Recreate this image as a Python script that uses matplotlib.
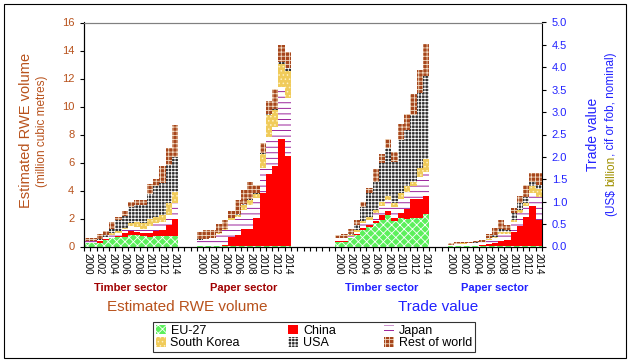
import matplotlib.pyplot as plt
import numpy as np
from matplotlib.patches import Patch, Rectangle

plt.rcParams['font.family'] = ['Liberation Sans', 'DejaVu Sans']
plt.rcParams['hatch.linewidth'] = 0.6

years = list(range(2000, 2015))
series_names = ["EU-27", "China", "Japan", "South Korea", "USA", "Rest of world"]

# Timber sector, estimated RWE volume (million m3)
timber_rwe_eu = [0.24, 0.24, 0.24, 0.43, 0.60, 0.67, 0.71, 0.79, 0.82, 0.77, 0.70, 0.77, 0.77, 0.77, 0.77]
timber_rwe_china = [0.00, 0.02, 0.14, 0.12, 0.04, 0.07, 0.24, 0.35, 0.24, 0.18, 0.30, 0.36, 0.41, 0.77, 1.19]
timber_rwe_japan = [0.12, 0.12, 0.10, 0.12, 0.19, 0.24, 0.31, 0.29, 0.30, 0.30, 0.48, 0.55, 0.59, 0.71, 1.12]
timber_rwe_korea = [0.02, 0.00, 0.02, 0.04, 0.12, 0.12, 0.07, 0.28, 0.40, 0.40, 0.50, 0.45, 0.48, 0.83, 0.79]
timber_rwe_usa = [0.02, 0.02, 0.05, 0.08, 0.31, 0.76, 0.88, 1.10, 1.20, 1.30, 1.75, 2.20, 2.26, 2.74, 2.55]
timber_rwe_row = [0.20, 0.20, 0.35, 0.35, 0.48, 0.28, 0.36, 0.40, 0.36, 0.38, 0.70, 0.46, 1.26, 1.19, 2.26]

# Paper sector, estimated RWE volume (million m3)
paper_rwe_eu = [0.03, 0.03, 0.03, 0.03, 0.03, 0.03, 0.03, 0.03, 0.03, 0.03, 0.03, 0.05, 0.05, 0.05, 0.05]
paper_rwe_china = [0.00, 0.00, 0.02, 0.03, 0.10, 0.67, 0.79, 1.20, 1.20, 2.03, 3.82, 5.10, 5.70, 7.65, 6.41]
paper_rwe_japan = [0.45, 0.48, 0.55, 0.85, 1.05, 1.20, 1.30, 1.38, 1.73, 1.38, 1.78, 2.70, 2.81, 3.67, 4.14]
paper_rwe_korea = [0.02, 0.02, 0.02, 0.03, 0.05, 0.12, 0.15, 0.35, 0.36, 0.29, 0.95, 1.54, 1.19, 1.67, 1.96]
paper_rwe_usa = [0.02, 0.02, 0.02, 0.03, 0.03, 0.05, 0.05, 0.05, 0.05, 0.07, 0.07, 0.11, 0.05, 0.16, 0.17]
paper_rwe_row = [0.52, 0.63, 0.55, 0.63, 0.63, 0.47, 1.00, 1.03, 1.26, 0.59, 0.72, 0.92, 1.43, 1.19, 1.19]

# Timber sector, trade value (US$ billion)
timber_val_eu = [0.11, 0.11, 0.18, 0.26, 0.37, 0.44, 0.52, 0.59, 0.70, 0.57, 0.63, 0.61, 0.63, 0.63, 0.73]
timber_val_china = [0.02, 0.02, 0.00, 0.01, 0.04, 0.04, 0.06, 0.11, 0.09, 0.06, 0.12, 0.23, 0.42, 0.42, 0.40]
timber_val_japan = [0.05, 0.05, 0.05, 0.06, 0.12, 0.11, 0.16, 0.21, 0.25, 0.26, 0.32, 0.38, 0.29, 0.51, 0.54]
timber_val_korea = [0.02, 0.02, 0.02, 0.03, 0.04, 0.06, 0.07, 0.09, 0.09, 0.09, 0.12, 0.12, 0.11, 0.19, 0.28]
timber_val_usa = [0.00, 0.00, 0.03, 0.12, 0.32, 0.54, 0.64, 0.86, 1.06, 0.91, 1.19, 1.26, 1.49, 1.67, 1.86]
timber_val_row = [0.06, 0.09, 0.10, 0.11, 0.11, 0.11, 0.27, 0.20, 0.22, 0.23, 0.35, 0.36, 0.46, 0.53, 0.71]

# Paper sector, trade value (US$ billion)
paper_val_eu = [0.01, 0.01, 0.01, 0.01, 0.01, 0.01, 0.01, 0.01, 0.01, 0.01, 0.01, 0.01, 0.01, 0.02, 0.02]
paper_val_china = [0.00, 0.00, 0.00, 0.01, 0.01, 0.02, 0.05, 0.07, 0.11, 0.14, 0.32, 0.45, 0.65, 0.88, 0.58]
paper_val_japan = [0.03, 0.04, 0.05, 0.05, 0.05, 0.06, 0.08, 0.10, 0.16, 0.14, 0.22, 0.28, 0.25, 0.30, 0.50]
paper_val_korea = [0.00, 0.01, 0.01, 0.01, 0.01, 0.01, 0.02, 0.03, 0.04, 0.03, 0.04, 0.07, 0.07, 0.14, 0.18]
paper_val_usa = [0.00, 0.00, 0.00, 0.00, 0.01, 0.01, 0.03, 0.05, 0.07, 0.05, 0.15, 0.15, 0.12, 0.10, 0.10]
paper_val_row = [0.03, 0.05, 0.04, 0.03, 0.04, 0.04, 0.10, 0.15, 0.20, 0.11, 0.11, 0.17, 0.27, 0.19, 0.25]

groups = [
    # (axis side, first slot, layers)
    ("left", 0, [timber_rwe_eu, timber_rwe_china, timber_rwe_japan, timber_rwe_korea, timber_rwe_usa, timber_rwe_row]),
    ("left", 18, [paper_rwe_eu, paper_rwe_china, paper_rwe_japan, paper_rwe_korea, paper_rwe_usa, paper_rwe_row]),
    ("right", 40, [timber_val_eu, timber_val_china, timber_val_japan, timber_val_korea, timber_val_usa, timber_val_row]),
    ("right", 58, [paper_val_eu, paper_val_china, paper_val_japan, paper_val_korea, paper_val_usa, paper_val_row]),
]
n_slots = 73

styles = {
    "EU-27": dict(facecolor="#5CF05C", edgecolor="white", hatch="xxxx"),
    "China": dict(facecolor="#FF0000", edgecolor="#FF0000"),
    "Japan": dict(facecolor="white", edgecolor="#8B008B", hatch="---"),
    "South Korea": dict(facecolor="#F0CB5A", edgecolor="#FFF0C0", hatch="...."),
    "USA": dict(facecolor="#2E2E2E", edgecolor="white", hatch="+++++"),
    "Rest of world": dict(facecolor="#A6461C", edgecolor="#F2DCC4", hatch="++++"),
}

rwe_color = "#B8521C"
sector_red = "#A00000"
blue = "#2222FF"
olive = "#A09000"

W, H = 629, 363
fig = plt.figure(figsize=(W / 100, H / 100), dpi=100)
ax = fig.add_axes([84 / W, 1 - 246.5 / H, (542 - 84) / W, 224 / H])
ax2 = ax.twinx()

for side, start, layers in groups:
    axis = ax if side == "left" else ax2
    x = start + np.arange(len(years))
    bottom = np.zeros(len(years))
    for name, vals in zip(series_names, layers):
        axis.bar(x, vals, width=1.0, bottom=bottom, align="edge", linewidth=0, **styles[name])
        bottom += np.array(vals)

ax.set_xlim(0, n_slots)
ax.set_ylim(0, 16)
ax2.set_ylim(0, 5)

# x axis: tick marks at each slot edge, year labels every second year
ax.set_xticks(np.arange(0, n_slots + 1))
ax.tick_params(axis="x", which="major", length=3, direction="out", labelbottom=False)
centers, labels = [], []
for _, start, _ in groups:
    for i, yr in enumerate(years):
        if yr % 2 == 0:
            centers.append(start + i + 0.5)
            labels.append(str(yr))
ax.set_xticks(centers, labels=labels, minor=True)
ax.tick_params(axis="x", which="minor", length=0, labelrotation=-90, labelsize=7, pad=5)

ax.set_yticks(np.arange(0, 17, 2))
ax.tick_params(axis="y", direction="out", length=3, pad=4, labelsize=8, labelcolor=rwe_color)
ax2.set_yticks(np.arange(0, 5.01, 0.5))
ax2.set_yticklabels([f"{v:.1f}" for v in np.arange(0, 5.01, 0.5)])
ax2.tick_params(axis="y", direction="out", length=3, pad=4, labelsize=8, labelcolor=blue)

for a in (ax, ax2):
    a.spines["top"].set_color("#808080")
ax.spines["right"].set_visible(False)

# axis titles
fig.text(26 / W, 1 - 130 / H, "Estimated RWE volume", rotation=90, ha="center", va="center",
         fontsize=10.5, color=rwe_color)
fig.text(42 / W, 1 - 131 / H, "(million cubic metres)", rotation=90, ha="center", va="center",
         fontsize=8.5, color=rwe_color)
fig.text(593 / W, 1 - 134 / H, "Trade value", rotation=90, ha="center", va="center",
         fontsize=10, color=blue)

# second right title line with "billion" in a different colour
pieces = [("(US$ ", blue), ("billion", olive), (", cif or fob, nominal)", blue)]
full = "".join(p for p, _ in pieces)
renderer = fig.canvas.get_renderer()


def text_width(s):
    t = fig.text(0, 0, s, fontsize=8.5)
    w = t.get_window_extent(renderer).width
    t.remove()
    return w


total = text_width(full)
y0 = (H - 134) - total / 2
offset = 0.0
prefix = ""
for s, col in pieces:
    prefix += s
    piece = s.strip() if s.strip() == s else s
    start = text_width(prefix.rstrip()) - text_width(s.strip())
    fig.text(611 / W, (y0 + start) / H, s.strip(), rotation=90, ha="center", va="bottom",
             fontsize=8.5, color=col)

# sector and block labels under the axis
xt = ax.get_xaxis_transform()
sector_labels = [("Timber sector", 7.5, sector_red), ("Paper sector", 25.5, sector_red),
                 ("Timber sector", 47.5, blue), ("Paper sector", 65.5, blue)]
for txt, xc, col in sector_labels:
    ax.text(xc, -0.185, txt, transform=xt, ha="center", va="center", fontsize=8,
            fontweight="bold", color=col)
ax.text(16.5, -0.27, "Estimated RWE volume", transform=xt, ha="center", va="center",
        fontsize=11, color=rwe_color)
ax.text(56.5, -0.27, "Trade value", transform=xt, ha="center", va="center",
        fontsize=11, color=blue)

# legend (column-major order for a 3 x 2 layout)
order = ["EU-27", "South Korea", "China", "USA", "Japan", "Rest of world"]
handles = [Patch(linewidth=0, label=n, **styles[n]) for n in order]
leg = fig.legend(handles=handles, ncol=3, loc="center", mode="expand",
                 bbox_to_anchor=(153 / W, 1 - 352 / H, 322 / W, 30 / H), borderaxespad=0,
                 fontsize=9, frameon=True, fancybox=False, edgecolor="black",
                 handlelength=0.8, handleheight=0.8, handletextpad=0.4,
                 labelspacing=0.05, borderpad=0.2, columnspacing=1.0)
leg.get_frame().set_linewidth(0.8)

# outer chart border
fig.add_artist(Rectangle((4 / W, 1 - 358 / H), 622 / W, 354 / H, transform=fig.transFigure,
                         fill=False, edgecolor="black", linewidth=0.8))

fig.savefig("out.png", dpi=100)
